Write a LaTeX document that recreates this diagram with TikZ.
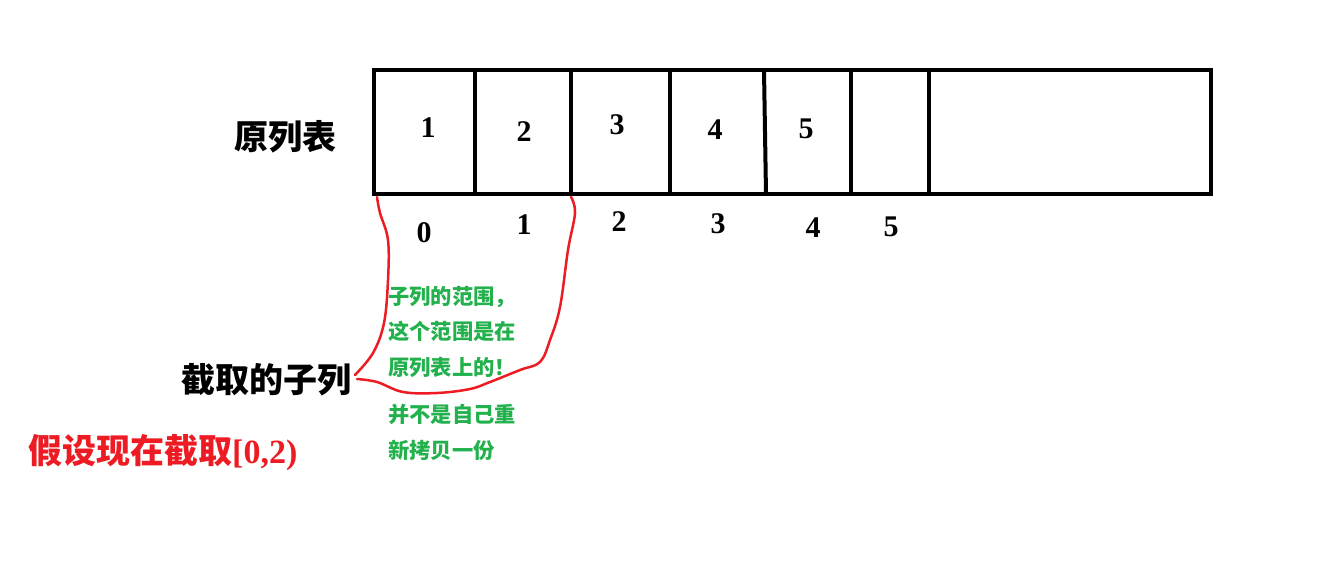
\documentclass[tikz,border=0pt]{standalone}
\usepackage{fontspec}
\setmainfont{Liberation Serif}
\newfontfamily\cjk{Noto Sans CJK SC}
\usepackage{tikz}
\definecolor{paintred}{HTML}{ED1C24}
\definecolor{paintgreen}{HTML}{22B14C}
\tikzset{
  cellline/.style={line width=4pt},
  num/.style={font=\fontsize{30}{30}\selectfont\bfseries, inner sep=0pt},
  label/.style={font=\cjk\fontsize{34}{34}\selectfont\bfseries, inner sep=0pt},
  note/.style={font=\cjk\fontsize{21.3}{35.5}\selectfont\bfseries, text=paintgreen, align=left, inner sep=0pt},
  wiggle/.style={draw=paintred, line width=2.5pt, line cap=round, line join=round}
}
\begin{document}
\begin{tikzpicture}[x=1pt,y=-1pt]
      \useasboundingbox (0,0) rectangle (1328,564);
      \draw[cellline] (374,70) rectangle (1211,194);
      \foreach \x in {475,571,670,851,929}
        \draw[cellline] (\x,70) -- (\x,194);
      \draw[cellline] (764,70) -- (766,194);
      \coordinate (lo) at (377,197);
      \coordinate (hi) at (571,197);
      % values in the list
      \node[num] (v1) at (428,128) {1};
      \node[num] (v2) at (524,132) {2};
      \node[num] (v3) at (617,125) {3};
      \node[num] (v4) at (715,130) {4};
      \node[num] (v5) at (806,129) {5};
      % indices
      \node[num] (i0) at (424,233) {0};
      \node[num] (i1) at (524,225) {1};
      \node[num] (i2) at (619,222) {2};
      \node[num] (i3) at (718,224) {3};
      \node[num] (i4) at (813,228) {4};
      \node[num] (i5) at (891,227) {5};
      \node[label, anchor=west] (orig) at (234,137) {原列表};
      \node[label, anchor=west] (sub) at (181,380) {截取的子列};
      \node[label, anchor=west, text=paintred] (cut) at (28,453) {假设现在截取{\rmfamily\bfseries[0,2)}};
      \node[note, anchor=north west] (range) at (388,286) {子列的范围，\\这个范围是在\\原列表上的！};
      \node[note, anchor=north west] (copy) at (388,404) {并不是自己重\\新拷贝一份};
      \draw[wiggle] plot[smooth, tension=0.6] coordinates {(lo) (380,213) (388,240) (388,280) (384,323) (373,353) (355,375)};
      \draw[wiggle] plot[smooth, tension=0.6] coordinates {(357,379) (377,382) (403,392) (437,393) (470,389) (490,382) (520,370) (540,362) (550,340) (560,307) (568,250) (575,213) (hi)};
    \end{tikzpicture}
\end{document}
